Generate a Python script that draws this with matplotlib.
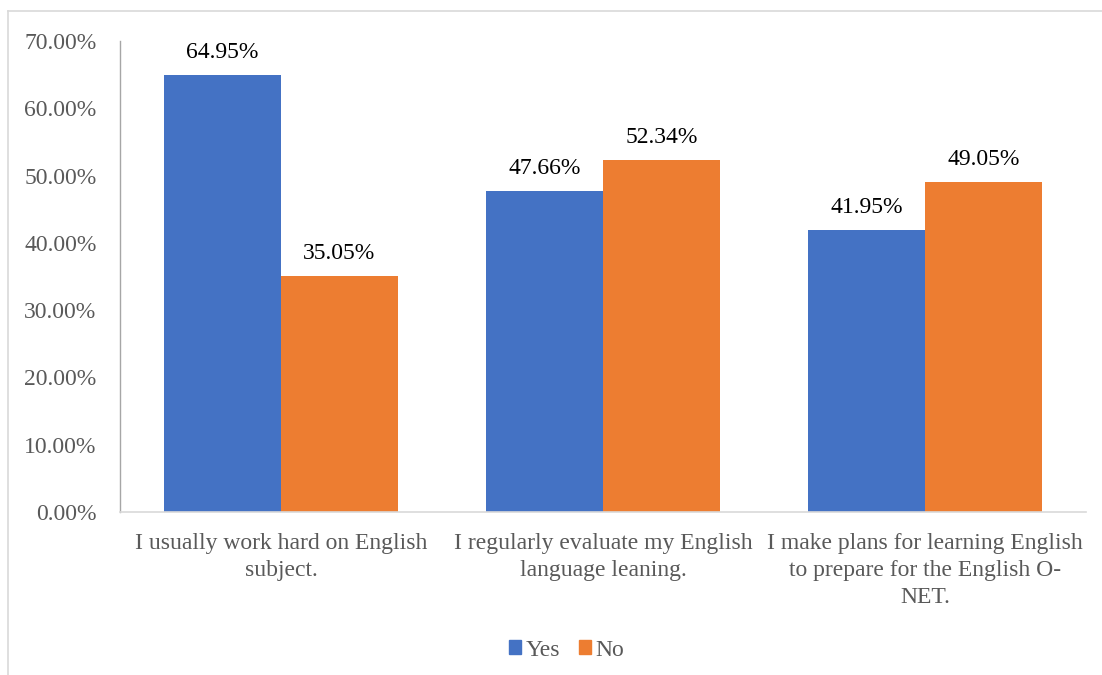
import matplotlib
matplotlib.use("Agg")
import matplotlib.pyplot as plt
from matplotlib.lines import Line2D
from matplotlib.patches import Patch
import numpy as np

categories = [
    "I usually work hard on English\nsubject.",
    "I regularly evaluate my English\nlanguage leaning.",
    "I make plans for learning English\nto prepare for the English O-\nNET.",
]
yes_vals = [0.6495, 0.4766, 0.4195]
no_vals = [0.3505, 0.5234, 0.4905]
yticks = [0.0, 0.1, 0.2, 0.3, 0.4, 0.5, 0.6, 0.7]

BLUE = "#4472C4"
ORANGE = "#ED7D31"
GREY = "#595959"
FS = 17

plt.rcParams["font.family"] = ["Liberation Serif", "DejaVu Serif"]

fig = plt.figure(figsize=(11.02, 6.75), dpi=100)
ax = fig.add_axes([0.1089, 0.2415, 0.8766, 0.6978])

x = np.arange(len(categories))
w = 0.363
b1 = ax.bar(x - w / 2, yes_vals, w, color=BLUE, label="Yes")
b2 = ax.bar(x + w / 2, no_vals, w, color=ORANGE, label="No")

for bars, vals in ((b1, yes_vals), (b2, no_vals)):
    for rect, v in zip(bars, vals):
        ax.text(rect.get_x() + rect.get_width() / 2, v + 0.018, f"{v * 100:.2f}%",
                ha="center", va="bottom", fontsize=FS, color="black")

ax.set_xlim(-0.5, 2.5)
ax.set_ylim(0, 0.7)
ax.set_yticks(yticks)
ax.set_yticklabels([f"{t * 100:.2f}%" for t in yticks])
ax.set_xticks(x)
ax.set_xticklabels(categories, linespacing=1.38)
ax.tick_params(axis="y", length=0, pad=17, labelsize=FS, labelcolor=GREY)
ax.tick_params(axis="x", length=0, pad=15, labelsize=FS, labelcolor=GREY)

for s in ("top", "right"):
    ax.spines[s].set_visible(False)
ax.spines["left"].set_color("#A6A6A6")
ax.spines["bottom"].set_color("#D9D9D9")
ax.spines["left"].set_linewidth(1.0)
ax.spines["bottom"].set_linewidth(1.2)

# chart area border (partially outside the canvas)
fig.add_artist(Line2D([8 / 1102, 1], [1 - 11 / 675, 1 - 11 / 675],
                      transform=fig.transFigure, color="#D9D9D9", lw=1.2))
fig.add_artist(Line2D([8 / 1102, 8 / 1102], [0, 1 - 11 / 675],
                      transform=fig.transFigure, color="#D9D9D9", lw=1.2))

handles = [Patch(color=BLUE, label="Yes"), Patch(color=ORANGE, label="No")]
fig.legend(handles=handles, loc="center", bbox_to_anchor=(567 / 1102, 1 - 650 / 675),
           ncol=2, frameon=False, fontsize=FS, labelcolor=GREY,
           handlelength=0.5, handleheight=0.5, handletextpad=0.2, columnspacing=0.8)

fig.savefig("out.png", dpi=100)
